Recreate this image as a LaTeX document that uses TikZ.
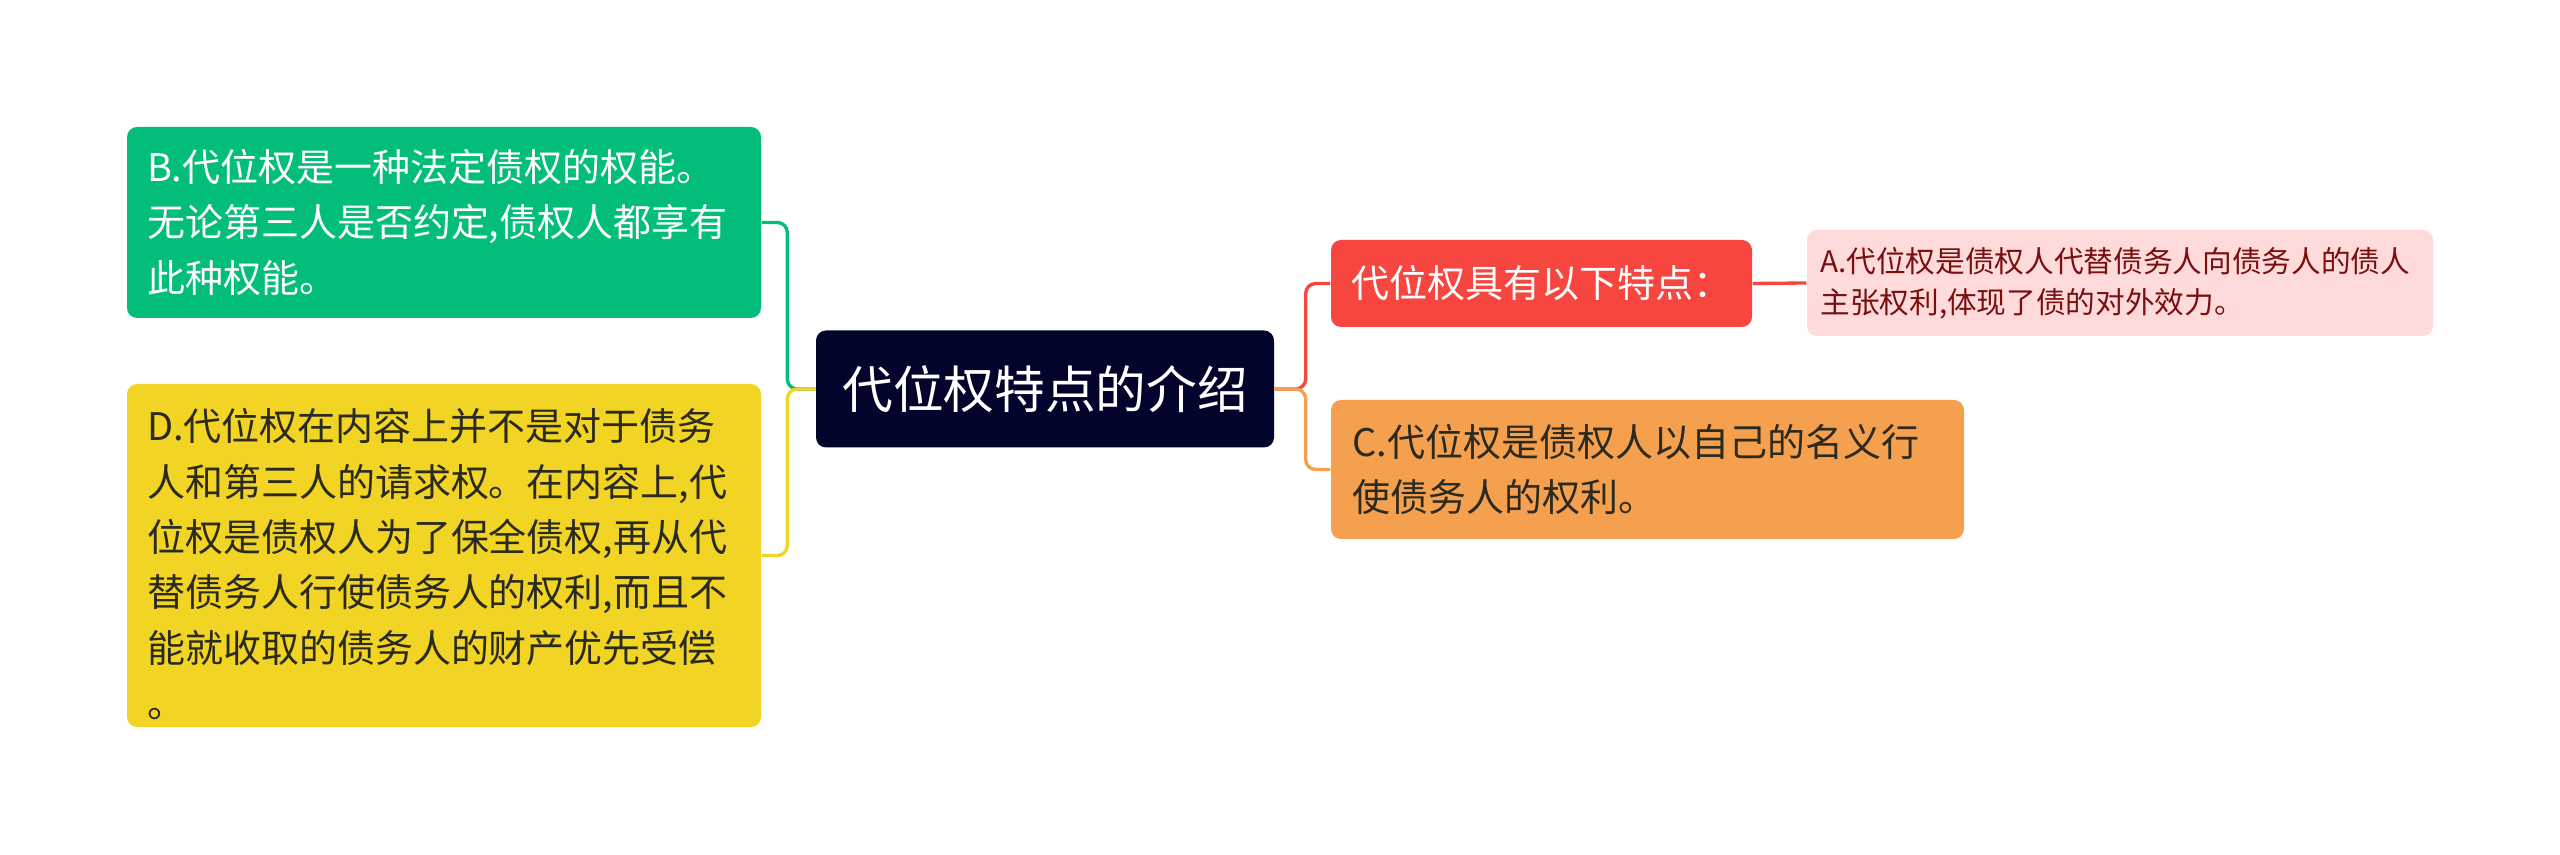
\documentclass[tikz,border=0pt]{standalone}
\usepackage{fontspec}
\setmainfont{Noto Sans CJK SC}
\definecolor{rootnavy}{HTML}{03042B}
\definecolor{bgreen}{HTML}{03BD7A}
\definecolor{dyellow}{HTML}{F2D424}
\definecolor{fred}{HTML}{F6463F}
\definecolor{apink}{HTML}{FFDADA}
\definecolor{atext}{HTML}{7A0F10}
\definecolor{corange}{HTML}{F5A04E}
\definecolor{darktext}{HTML}{2A2A1E}
\begin{document}
\begin{tikzpicture}[x=.3pt,y=-.3pt,
  box/.style={rounded corners=3pt,inner xsep=6pt,inner ysep=0pt,align=left},
  big/.style={font=\fontsize{11.4}{16.6}\selectfont},
  small/.style={font=\fontsize{8.9}{12.3}\selectfont},
  link/.style={line width=1pt,rounded corners=3pt}]
\useasboundingbox (0,0) rectangle (2560,855);
\path (1045,389) node[box,fill=rootnavy,text=white,minimum width=137.4pt,minimum height=35.1pt,font=\fontsize{15.2}{18}\selectfont] (root) {代位权特点的介绍}
(444,222.5) node[box,big,fill=bgreen,text=white,text width=178.2pt,minimum height=57.3pt] (B) {B.代位权是一种法定债权的权能。\\无论第三人是否约定,债权人都享有\\此种权能。}
(444,555.5) node[box,big,fill=dyellow,text=darktext,text width=178.2pt,minimum height=102.9pt] (D) {\rule{0pt}{15pt}D.代位权在内容上并不是对于债务\\人和第三人的请求权。在内容上,代\\位权是债权人为了保全债权,再从代\\替债务人行使债务人的权利,而且不\\能就收取的债务人的财产优先受偿\\。}
(1541.5,283.5) node[box,big,fill=fred,text=white,minimum width=126.3pt,minimum height=26.1pt] (R) {代位权具有以下特点：}
(2120,283) node[box,small,fill=apink,text=atext,inner xsep=4pt,text width=179.8pt,minimum height=31.8pt] (A) {A.代位权是债权人代替债务人向债务人的债人\\主张权利,体现了债的对外效力。}
(1647.5,469.5) node[box,big,fill=corange,text=darktext,inner xsep=6.4pt,text width=177.1pt,minimum height=41.7pt] (C) {C.代位权是债权人以自己的名义行\\使债务人的权利。};
% left side
\draw[link,bgreen] (root.west) -- ++(-28,0) |- (B.east);
\draw[link,dyellow] (root.west) -- ++(-28,0) |- (D.east);
% right side
\draw[link,fred] (root.east) -- ++(31,0) |- (R.west);
\draw[link,corange] (root.east) -- ++(31,0) |- (C.west);
\draw[link,fred] (R.east) -- (A.west);
\end{tikzpicture}
\end{document}
